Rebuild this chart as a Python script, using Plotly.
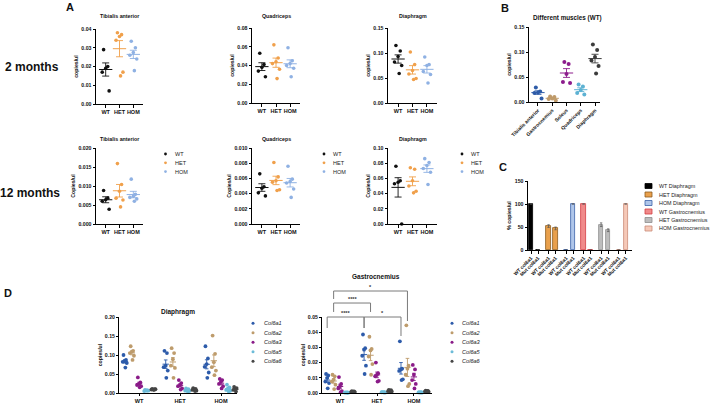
import numpy as np
import plotly.graph_objects as go

W, H = 711, 404
FONT = "Liberation Sans, Arial, sans-serif"

# ---------------- data ----------------
GROUPS = ["WT", "HET", "HOM"]
GROUP_COLORS = ["#111111", "#F0A04B", "#8FB1E3"]

# Panel A, 2 months (copies/ul)
TA_2M = [[0.029, 0.020, 0.019, 0.017, 0.007],
         [0.038, 0.037, 0.036, 0.034, 0.017, 0.015],
         [0.0335, 0.030, 0.0275, 0.026, 0.024, 0.0178]]
QU_2M = [[0.053, 0.041, 0.038, 0.034, 0.028],
         [0.062, 0.048, 0.044, 0.042, 0.036, 0.026],
         [0.059, 0.045, 0.042, 0.040, 0.037, 0.028]]
DI_2M = [[0.115, 0.104, 0.093, 0.082, 0.075, 0.059],
         [0.102, 0.077, 0.065, 0.058, 0.049, 0.047],
         [0.092, 0.077, 0.075, 0.063, 0.057, 0.040]]
# Panel A, 12 months
TA_12M = [[0.0088, 0.0068, 0.0064, 0.0060, 0.0039],
          [0.0159, 0.0104, 0.0086, 0.0068, 0.0063, 0.0045],
          [0.0118, 0.0078, 0.0073, 0.0070, 0.0066, 0.0060]]
QU_12M = [[0.0066, 0.0049, 0.0047, 0.0041, 0.0037],
          [0.0081, 0.0062, 0.0057, 0.0055, 0.0045, 0.0044],
          [0.0076, 0.0059, 0.0056, 0.0054, 0.0046, 0.0035]]
DI_12M = [[0.076, 0.057, 0.055, 0.053, 0.0],
          [0.074, 0.072, 0.057, 0.050, 0.043, 0.041],
          [0.086, 0.081, 0.077, 0.073, 0.068, 0.052]]

# Panel B
MUSCLES = ["Tibialis anterior", "Gastrocnemius", "Soleus", "Quadriceps", "Diaphragm"]
MUSCLE_COLORS = ["#2E5CA8", "#BF9A6A", "#8C1C8C", "#5DB2D3", "#3B3B3B"]
B_VALUES = [[0.029, 0.021, 0.019, 0.018, 0.007],
            [0.011, 0.010, 0.007, 0.006, 0.003],
            [0.080, 0.076, 0.056, 0.040, 0.038],
            [0.035, 0.031, 0.024, 0.018, 0.015],
            [0.115, 0.104, 0.090, 0.083, 0.072, 0.057]]

# Panel C
C_SERIES = ["WT Diaphragm", "HET Diaphragm", "HOM Diaphragm",
            "WT Gastrocnemius", "HET Gastrocnemius", "HOM Gastrocnemius"]
C_BAR_LABELS = ["WT col6a1", "Mut col6a1"]
C_WT_ALLELE = [100, 52, 0, 100, 55, 0]
C_MUT_ALLELE = [0, 47, 100, 0, 43, 100]
C_WT_ERR = [0, 3, 0, 0, 4, 0]
C_MUT_ERR = [0, 3, 0, 0, 3, 0]
C_FILL = ["#000000", "#E9A04C", "#AFC6EA", "#F08A8A", "#BDBDBD", "#F6C9B8"]
C_EDGE = ["#000000", "#8A5A1E", "#3B62A8", "#D23C43", "#8E8E8E", "#C98A76"]

# Panel D
GENES = ["Col6a1", "Col6a2", "Col6a3", "Col6a5", "Col6a6"]
GENE_COLORS = ["#2D5BAA", "#BE9C6C", "#8A1B88", "#6CBBD8", "#454545"]
DIA_WT = [[0.100, 0.087, 0.084, 0.082, 0.079, 0.067],
          [0.123, 0.111, 0.109, 0.105, 0.098, 0.087],
          [0.041, 0.028, 0.024, 0.021, 0.018, 0.015],
          [0.008, 0.007, 0.006, 0.005, 0.006, 0.007],
          [0.011, 0.010, 0.009, 0.009, 0.010, 0.008]]
DIA_HET = [[0.111, 0.105, 0.072, 0.068, 0.059, 0.040],
           [0.118, 0.105, 0.089, 0.072, 0.066, 0.040],
           [0.034, 0.026, 0.021, 0.018, 0.012, 0.009],
           [0.012, 0.010, 0.008, 0.006, 0.005, 0.004],
           [0.013, 0.011, 0.009, 0.008, 0.006, 0.005]]
DIA_HOM = [[0.123, 0.091, 0.076, 0.069, 0.054, 0.040],
           [0.151, 0.103, 0.081, 0.068, 0.059, 0.047],
           [0.037, 0.034, 0.030, 0.024, 0.018, 0.012],
           [0.022, 0.015, 0.012, 0.008, 0.006, 0.004],
           [0.016, 0.013, 0.010, 0.008, 0.006, 0.004]]
GAS_WT = [[0.0125, 0.0115, 0.0099, 0.0075, 0.0065, 0.0031],
          [0.012, 0.011, 0.0088, 0.0075, 0.0055, 0.0026],
          [0.0105, 0.006, 0.0045, 0.003, 0.0012, 0.0005],
          [0.0004, 0.0003, 0.0002, 0.0003, 0.0002, 0.0004],
          [0.0012, 0.0010, 0.0008, 0.0007, 0.0006, 0.0009]]
GAS_HET = [[0.0385, 0.0295, 0.0285, 0.0245, 0.018, 0.0125],
           [0.037, 0.029, 0.028, 0.024, 0.019, 0.012],
           [0.020, 0.013, 0.012, 0.011, 0.008, 0.0075],
           [0.0006, 0.0005, 0.0004, 0.0005, 0.0003, 0.0004],
           [0.0020, 0.0018, 0.0015, 0.0012, 0.0010, 0.0008]]
GAS_HOM = [[0.034, 0.016, 0.0155, 0.0145, 0.009, 0.0085],
           [0.0445, 0.018, 0.016, 0.012, 0.006, 0.0045],
           [0.0185, 0.0155, 0.012, 0.0085, 0.006, 0.003],
           [0.0005, 0.0004, 0.0003, 0.0004, 0.0003, 0.0005],
           [0.0015, 0.0013, 0.0011, 0.0010, 0.0008, 0.0012]]

# significance comparisons in Gastrocnemius (gene index, group a, group b, label)
SIG = [(0, 0, 1, "****"), (0, 1, 2, "*"), (1, 0, 1, "****"), (1, 0, 2, "*")]

# horizontal spread pattern for dot plots (fraction of spread)
JITTER = [-0.6, 0.6, 0.0, -1.0, 1.0, 0.3]

# ---------------- helpers ----------------
fig = go.Figure()
layout = dict(width=W, height=H, margin=dict(l=0, r=0, t=0, b=0),
              paper_bgcolor="white", plot_bgcolor="white", showlegend=False,
              font=dict(family=FONT, color="#111111"))
annotations = []
shapes = []
RANGES = {}


def names(i):
    return ("x" if i == 1 else f"x{i}"), ("y" if i == 1 else f"y{i}")


def add_axes(i, x0, x1, ytop, ybot, xr, yr, dtick, fmt, ytitle, tickvals, ticktext,
             xfont=5.5, yfont=5.2, tickangle=0, titlesize=5.2, ticklen=2.5):
    xa, ya = names(i)
    sfx = "" if i == 1 else str(i)
    RANGES[i] = (xr, yr)
    common = dict(showline=True, linecolor="black", linewidth=1, ticks="outside",
                  ticklen=ticklen, tickwidth=1, tickcolor="black", showgrid=False,
                  zeroline=False, fixedrange=True, automargin=False)
    layout["xaxis" + sfx] = dict(domain=[x0 / W, x1 / W], range=xr, anchor=ya,
                                 tickvals=tickvals, ticktext=ticktext, tickangle=tickangle,
                                 tickfont=dict(size=xfont, weight="bold", color="#111"),
                                 **common)
    layout["yaxis" + sfx] = dict(domain=[1 - ybot / H, 1 - ytop / H], range=yr, anchor=xa,
                                 dtick=dtick, tick0=0, tickformat=fmt,
                                 tickfont=dict(size=yfont, weight="bold", color="#111"),
                                 title=dict(text=ytitle, standoff=2,
                                            font=dict(size=titlesize, weight="bold", color="#111")),
                                 **common)
    return xa, ya


def mean_sem(vals):
    v = np.asarray(vals, dtype=float)
    return v.mean(), v.std(ddof=1) / np.sqrt(len(v))


def dots(i, pos, vals, color, spread, msize, meansize, capw):
    xa, ya = names(i)
    xs = [pos + JITTER[k % len(JITTER)] * spread for k in range(len(vals))]
    fig.add_trace(go.Scatter(x=xs, y=vals, mode="markers", xaxis=xa, yaxis=ya,
                             marker=dict(size=msize, color=color, line=dict(width=0)),
                             hoverinfo="skip", cliponaxis=False))
    m, s = mean_sem(vals)
    fig.add_trace(go.Scatter(x=[pos], y=[m], mode="markers", xaxis=xa, yaxis=ya,
                             marker=dict(symbol="line-ew", size=meansize, color=color,
                                         line=dict(width=1, color=color)),
                             error_y=dict(type="data", array=[s], color=color,
                                          thickness=0.9, width=capw),
                             hoverinfo="skip", cliponaxis=False))


def text(x, y, s, size, bold=False, italic=False, xanchor="center", color="#111111"):
    annotations.append(dict(
        x=x / W, y=1 - y / H, xref="paper", yref="paper",
        text=s, showarrow=False, xanchor=xanchor, yanchor="middle",
        font=dict(size=size, family=FONT, color=color,
                  weight="bold" if bold else "normal",
                  style="italic" if italic else "normal")))


def dot_key(cx, cy, color, r=1.5):
    shapes.append(dict(type="circle", xref="paper", yref="paper",
                       x0=(cx - r) / W, x1=(cx + r) / W, y0=1 - (cy + r) / H, y1=1 - (cy - r) / H,
                       fillcolor=color, line=dict(width=0)))


GPOS = [0, 1, 2]
AX_X = [-0.7, 2.7]

# ---------------- panel A ----------------
a_panels = [
    (1, 96, 143, 29, 104, [0, 0.04], 0.01, ".2f", "copies/ul", TA_2M, "Tibialis anterior", 16),
    (2, 252, 300, 28, 103, [0, 0.08], 0.02, ".2f", "copies/ul", QU_2M, "Quadriceps", 16),
    (3, 388, 437, 28, 103, [0, 0.15], 0.05, ".2f", "copies/ul", DI_2M, "Diaphragm", 16),
    (5, 96, 143, 148, 224, [0, 0.02], 0.005, ".3f", "Copies/ul", TA_12M, "Tibialis anterior", 139),
    (6, 252, 300, 148, 224, [0, 0.01], 0.002, ".3f", "Copies/ul", QU_12M, "Quadriceps", 139),
    (7, 388, 437, 148, 224, [0, 0.10], 0.02, ".2f", "Copies/ul", DI_12M, "Diaphragm", 139),
]
for (i, x0, x1, yt, yb, yr, dt, fmt, yt_txt, data, title, ty) in a_panels:
    add_axes(i, x0, x1, yt, yb, AX_X, yr, dt, fmt, yt_txt, GPOS, GROUPS)
    for g, vals in enumerate(data):
        dots(i, GPOS[g], vals, GROUP_COLORS[g], 0.25, 3.6, 9.5, 3.5)
    text((x0 + x1) / 2, ty, title, 5.3, bold=True)

# legends for 12-month row
for (mx, tx) in [(165.5, 172.5), (324, 331), (462, 469)]:
    for g, name in enumerate(GROUPS):
        cy = 154 + g * 8.8
        dot_key(mx, cy, GROUP_COLORS[g], 1.4)
        text(tx, cy, name, 5.5, xanchor="left", color="#222")

text(70, 7, "A", 11, bold=True)
text(32, 67, "2 months", 12, bold=True)
text(30, 193, "12 months", 12, bold=True)

# ---------------- panel B ----------------
BPOS = list(range(len(MUSCLES)))
add_axes(4, 529, 600, 27, 102, [-0.63, 4.35], [0, 0.15], 0.05, ".2f", "copies/ul",
         BPOS, MUSCLES, xfont=5.0, tickangle=-45)
for m, vals in enumerate(B_VALUES):
    dots(4, BPOS[m], vals, MUSCLE_COLORS[m], 0.25, 4.0, 9.5, 3.5)
text(567, 18, "Different muscles (WT)", 6.3, bold=True)
text(505, 8, "B", 11, bold=True)

# ---------------- panel C ----------------
C_GAP = 2.5
c_ticks = [g * C_GAP + b for g in range(len(C_SERIES)) for b in range(2)]
c_text = [C_BAR_LABELS[b] for g in range(len(C_SERIES)) for b in range(2)]
add_axes(8, 528, 632, 181, 250, [-0.43, 14.4], [0, 150], 50, "d", "% copies/ul",
         c_ticks, c_text, xfont=4.9, tickangle=-45)
for g, name in enumerate(C_SERIES):
    fig.add_trace(go.Bar(
        x=[g * C_GAP, g * C_GAP + 1], y=[C_WT_ALLELE[g], C_MUT_ALLELE[g]], width=0.62,
        name=name, xaxis="x8", yaxis="y8",
        marker=dict(color=C_FILL[g], line=dict(color=C_EDGE[g], width=0.8)),
        error_y=dict(type="data", array=[C_WT_ERR[g], C_MUT_ERR[g]], color="#555",
                     thickness=0.7, width=1.2, visible=True),
        hoverinfo="skip"))
for g, name in enumerate(C_SERIES):
    cy = 186 + g * 8.5
    shapes.append(dict(type="rect", xref="paper", yref="paper",
                       x0=645 / W, x1=652 / W, y0=1 - (cy + 2.5) / H, y1=1 - (cy - 2.5) / H,
                       fillcolor=C_FILL[g], line=dict(color=C_EDGE[g], width=0.8)))
    text(657, cy, name, 5.4, xanchor="left", color="#222")
text(503, 167, "C", 11, bold=True)
layout["bargap"] = 0

# ---------------- panel D ----------------
GENE_OFF = 0.175
d_panels = [
    (9, 119, 237, 317, 393, [-0.49, 2.39], [0, 0.20], 0.05, [DIA_WT, DIA_HET, DIA_HOM],
     "Diaphragm", 178, 312, (253, 262)),
    (10, 322, 432, 317, 393, [-0.49, 2.49], [0, 0.05], 0.01, [GAS_WT, GAS_HET, GAS_HOM],
     "Gastrocnemius", 376, 276, (452, 460)),
]
for (i, x0, x1, yt, yb, xr, yr, dt, groups, title, tx, ty, (lmx, ltx)) in d_panels:
    add_axes(i, x0, x1, yt, yb, xr, yr, dt, ".2f", "copies/ul", GPOS, GROUPS,
             xfont=5.6, yfont=5.2, ticklen=2)
    for g, per_gene in enumerate(groups):
        for j, vals in enumerate(per_gene):
            dots(i, GPOS[g] + (j - 2) * GENE_OFF, vals, GENE_COLORS[j], 0.05, 3.8, 4.5, 1.8)
    text(tx, ty, title, 6.5, bold=True)
    for j, gname in enumerate(GENES):
        cy = 323.3 + j * 9.5
        dot_key(lmx, cy, GENE_COLORS[j], 1.5)
        text(ltx, cy, gname, 5.6, italic=True, xanchor="left", color="#222")
text(8, 293, "D", 11, bold=True)

# significance brackets (Gastrocnemius)
gx, gy = RANGES[10]


def dom_x(v):
    return (v - gx[0]) / (gx[1] - gx[0])


BRACKET_LEVELS = [(1.0, 0.855, 0.855), (1.0, 0.855, 0.75), (1.184, 1.066, 1.066), (1.342, 1.237, 0.947)]
for (gene, ga, gb, lab), (top, la, lb) in zip(SIG, BRACKET_LEVELS):
    xa_ = dom_x(GPOS[ga] + (gene - 2) * GENE_OFF)
    xb_ = dom_x(GPOS[gb] + (gene - 2) * GENE_OFF)
    path = f"M{xa_},{la} L{xa_},{top} L{xb_},{top} L{xb_},{lb}"
    shapes.append(dict(type="path", xref="x10 domain", yref="y10 domain", path=path,
                       line=dict(color="#7A7A7A", width=1)))
    annotations.append(dict(x=(xa_ + xb_) / 2, y=top + 0.055, xref="x10 domain", yref="y10 domain",
                            text=lab, showarrow=False, xanchor="center", yanchor="middle",
                            font=dict(size=5.5, family=FONT, color="#333", weight="bold")))

layout["annotations"] = annotations
layout["shapes"] = shapes
fig.update_layout(**layout)
fig.write_html("out.html")
